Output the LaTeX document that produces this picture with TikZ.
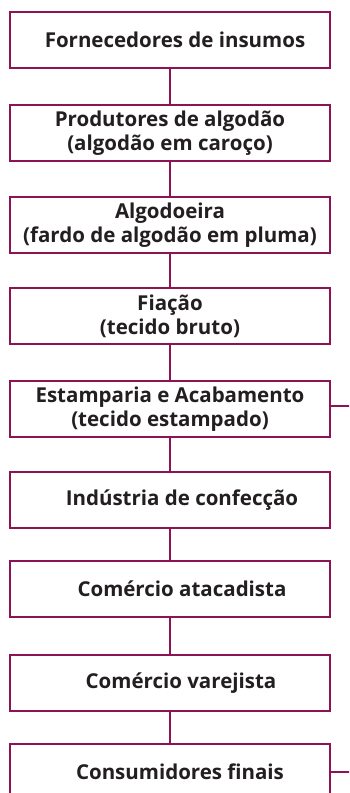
\documentclass[tikz,border=0pt]{standalone}
\usepackage{fontspec}
\setmainfont{Open Sans}
\definecolor{frame}{RGB}{140,20,85}
\definecolor{ink}{RGB}{35,31,32}
\begin{document}
\begin{tikzpicture}[x=1pt,y=-1pt,
  box/.style={draw=frame, line width=2.2pt, minimum width=320pt, minimum height=56pt, inner sep=0pt, fill=white},
  lbl/.style={font=\bfseries\fontsize{20.5}{24}\selectfont, text=ink, align=center, inner sep=0pt},
  link/.style={draw=frame, line width=2.2pt}]
\useasboundingbox (0,0) rectangle (349,793);
\clip (0,0) rectangle (349,793);
\node[box] (b1) at (170,40) {};
\node[box] (b2) at (170,133) {};
\node[box] (b3) at (170,225) {};
\node[box] (b4) at (170,316) {};
\node[box] (b5) at (170,409) {};
\node[box] (b6) at (170,500) {};
\node[box] (b7) at (170,589) {};
\node[box] (b8) at (170,683) {};
\node[box] (b9) at (170,772) {};
\draw[link] (b1) -- (b2);
\draw[link] (b2) -- (b3);
\draw[link] (b3) -- (b4);
\draw[link] (b4) -- (b5);
\draw[link] (b5) -- (b6);
\draw[link] (b6) -- (b7);
\draw[link] (b7) -- (b8);
\draw[link] (b8) -- (b9);
\coordinate (r5) at (352,406);
\coordinate (r9) at (352,772);
\draw[link] (b5.east |- r5) -- (r5);
\draw[link] (b9.east |- r9) -- (r9);
\node[lbl] (t1) at ([xshift=5]b1.center) {Fornecedores de insumos};
\node[lbl] (t2) at (b2.center) {Produtores de algodão\\(algodão em caroço)};
\node[lbl] (t3) at (b3.center) {Algodoeira\\(fardo de algodão em pluma)};
\node[lbl] (t4) at (b4.center) {Fiação\\(tecido bruto)};
\node[lbl] (t5) at (b5.center) {Estamparia e Acabamento\\(tecido estampado)};
\node[lbl] (t6) at ([xshift=12]b6.center) {Indústria de confecção};
\node[lbl] (t7) at ([xshift=12]b7.center) {Comércio atacadista};
\node[lbl] (t8) at ([xshift=11]b8.center) {Comércio varejista};
\node[lbl] (t9) at ([xshift=10]b9.center) {Consumidores finais};
\end{tikzpicture}
\end{document}
